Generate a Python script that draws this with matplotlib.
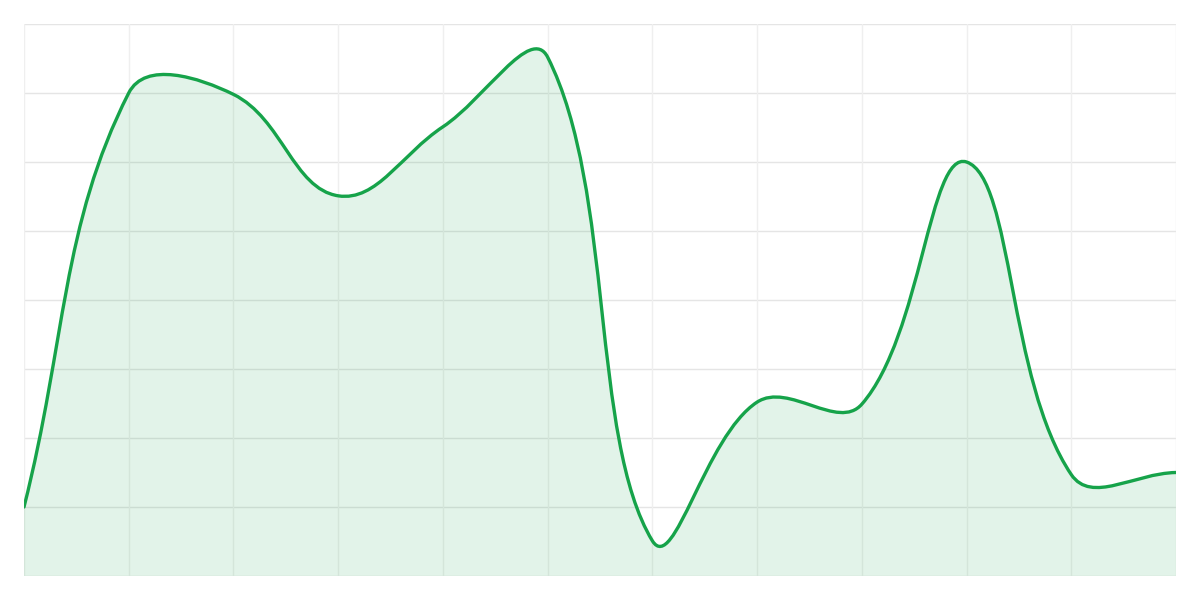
import numpy as np
import matplotlib
matplotlib.use("Agg")
import matplotlib.pyplot as plt
from matplotlib.path import Path
from matplotlib.patches import PathPatch

# данные: 12 точек, шкала 0..80
labels = list(range(12))
values = [10.0, 70.0, 69.8, 55.1, 65.1, 75.2, 5.1, 25.2, 24.9, 60.0, 14.7, 15.0]
y_min, y_max = 0, 80
tension = 0.4

fig = plt.figure(figsize=(12, 6), dpi=100)
ax = fig.add_axes([24 / 1200, 24 / 600, 1152 / 1200, 552 / 600])
ax.set_xlim(0, len(labels) - 1)
ax.set_ylim(y_min, y_max)

# размеры области в пикселях для расчёта контрольных точек
W, H = 1152.0, 552.0
sx = W / (len(labels) - 1)
sy = H / (y_max - y_min)
pts = np.array([[i * sx, (v - y_min) * sy] for i, v in zip(labels, values)])

n = len(pts)
cp_prev = pts.copy()
cp_next = pts.copy()
for i in range(n):
    p0 = pts[max(i - 1, 0)]
    p1 = pts[i]
    p2 = pts[min(i + 1, n - 1)]
    d01 = np.hypot(*(p1 - p0))
    d12 = np.hypot(*(p2 - p1))
    tot = d01 + d12
    s01 = d01 / tot if tot else 0
    s12 = d12 / tot if tot else 0
    cp_prev[i] = p1 - tension * s01 * (p2 - p0)
    cp_next[i] = p1 + tension * s12 * (p2 - p0)

# ограничиваем контрольные точки областью графика
for arr in (cp_prev, cp_next):
    arr[:, 0] = np.clip(arr[:, 0], 0, W)
    arr[:, 1] = np.clip(arr[:, 1], 0, H)

def to_data(p):
    return (p[0] / sx, p[1] / sy + y_min)

verts = [to_data(pts[0])]
codes = [Path.MOVETO]
for i in range(n - 1):
    verts += [to_data(cp_next[i]), to_data(cp_prev[i + 1]), to_data(pts[i + 1])]
    codes += [Path.CURVE4] * 3

line_path = Path(verts, codes)
fill_verts = verts + [(labels[-1], y_min), (labels[0], y_min), verts[0]]
fill_codes = codes + [Path.LINETO, Path.LINETO, Path.CLOSEPOLY]
fill_path = Path(fill_verts, fill_codes)

# сетка
for y in range(y_min, y_max + 1, 10):
    ax.axhline(y, color="#e5e5e5", lw=1, zorder=0)
for x in labels:
    ax.axvline(x, color="#efefef", lw=1, zorder=0)

ax.add_patch(PathPatch(fill_path, facecolor=(22 / 255, 163 / 255, 74 / 255, 0.12),
                       edgecolor="none", zorder=1))
ax.add_patch(PathPatch(line_path, facecolor="none", edgecolor="#16a34a",
                       lw=2.4, zorder=2, capstyle="round", joinstyle="round"))

ax.set_xticks([])
ax.set_yticks([])
for s in ax.spines.values():
    s.set_visible(False)

fig.savefig("out.png", dpi=100)
